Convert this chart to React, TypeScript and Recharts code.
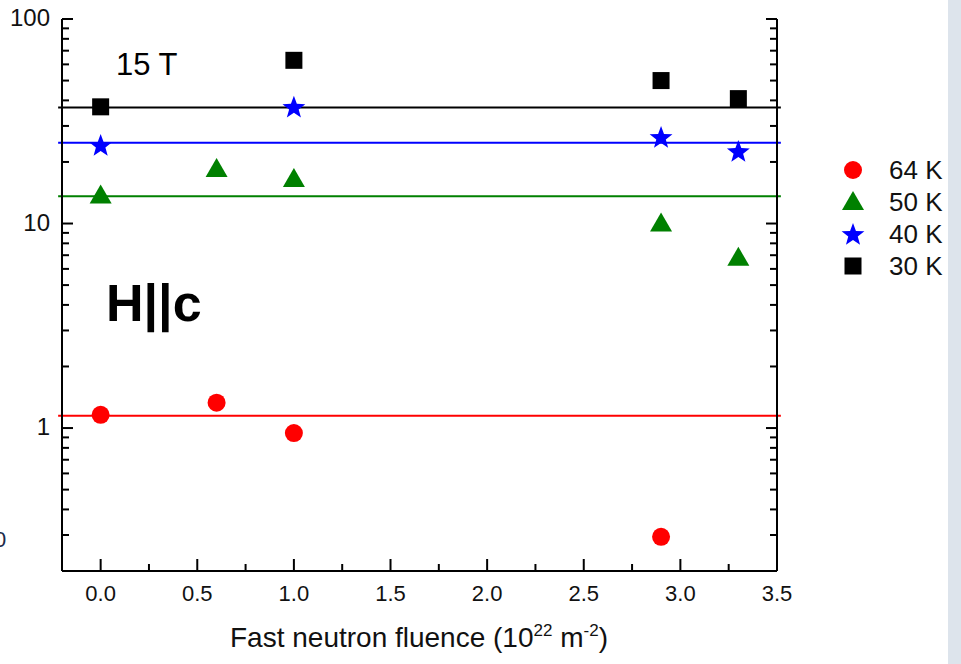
import React from 'react';
import { ScatterChart, Scatter, XAxis, YAxis, ReferenceLine } from 'recharts';

const xTicksMajor = [0, 0.5, 1.0, 1.5, 2.0, 2.5, 3.0, 3.5];
const xTicksMinor = [0.25, 0.75, 1.25, 1.75, 2.25, 2.75, 3.25];
const yTicksMajor = [1, 10, 100];
const yTickLabels: Record<string, string> = { '1': '1', '10': '10', '100': '100' };
const yTicksMinor = [0.2, 0.3, 0.4, 0.5, 0.6, 0.7, 0.8, 0.9, 2, 3, 4, 5, 6, 7, 8, 9, 20, 30, 40, 50, 60, 70, 80, 90];

const data64K = [
  { x: 0.0, y: 1.16 },
  { x: 0.6, y: 1.33 },
  { x: 1.0, y: 0.945 },
  { x: 2.9, y: 0.294 },
];
const data50K = [
  { x: 0.0, y: 13.7 },
  { x: 0.6, y: 18.5 },
  { x: 1.0, y: 16.5 },
  { x: 2.9, y: 10.0 },
  { x: 3.3, y: 6.8 },
];
const data40K = [
  { x: 0.0, y: 24.2 },
  { x: 1.0, y: 37.2 },
  { x: 2.9, y: 26.5 },
  { x: 3.3, y: 22.6 },
];
const data30K = [
  { x: 0.0, y: 37.2 },
  { x: 1.0, y: 62.8 },
  { x: 2.9, y: 50.0 },
  { x: 3.3, y: 40.8 },
];
const avgLines = [
  { name: '64 K', y: 1.15, color: '#ff0000' },
  { name: '50 K', y: 13.6, color: '#008000' },
  { name: '40 K', y: 24.8, color: '#0000ff' },
  { name: '30 K', y: 36.9, color: '#000000' },
];

const FONT = "'Liberation Sans', Arial, sans-serif";

const Circle = (p: any) => <circle cx={p.cx} cy={p.cy} r={9} fill="#ff0000" />;
const Tri = (p: any) => (
  <polygon
    points={`${p.cx},${p.cy - 11} ${p.cx - 11},${p.cy + 8} ${p.cx + 11},${p.cy + 8}`}
    fill="#008000"
  />
);
const starPts = (cx: number, cy: number, R: number, r: number) => {
  const pts: string[] = [];
  for (let i = 0; i < 10; i++) {
    const rad = i % 2 === 0 ? R : r;
    const a = -Math.PI / 2 + (i * Math.PI) / 5;
    pts.push(`${cx + rad * Math.cos(a)},${cy + rad * Math.sin(a)}`);
  }
  return pts.join(' ');
};
const Star = (p: any) => <polygon points={starPts(p.cx, p.cy + 1, 12, 5)} fill="#0000ff" />;
const Square = (p: any) => <rect x={p.cx - 8.5} y={p.cy - 8.5} width={17} height={17} fill="#000" />;

const isMajorX = (v: number) => xTicksMajor.some((t) => Math.abs(t - v) < 1e-9);
const isMajorY = (v: number) => yTicksMajor.some((t) => Math.abs(t - v) < 1e-9);

const BottomTick = (p: any) => {
  const major = isMajorX(p.payload.value);
  const len = major ? 12 : 7;
  return (
    <g>
      <line x1={p.x} x2={p.x} y1={p.y} y2={p.y - len} stroke="#000" strokeWidth={2} />
      {major && (
        <text x={p.x} y={p.y + 30} textAnchor="middle" fontSize={22} fontFamily={FONT} fill="#111">
          {p.payload.value.toFixed(1)}
        </text>
      )}
    </g>
  );
};
const TopTick = (p: any) => {
  const major = isMajorX(p.payload.value);
  const len = major ? 12 : 7;
  return <line x1={p.x} x2={p.x} y1={p.y} y2={p.y + len} stroke="#000" strokeWidth={2} />;
};
const LeftTick = (p: any) => {
  const major = isMajorY(p.payload.value);
  const len = major ? 11 : 7;
  const label = yTickLabels[String(p.payload.value)];
  return (
    <g>
      <line x1={p.x} x2={p.x + len} y1={p.y} y2={p.y} stroke="#000" strokeWidth={2} />
      {major && label && (
        <text x={p.x - 12} y={p.y + 7} textAnchor="end" fontSize={24} fontFamily={FONT} fill="#111">
          {label}
        </text>
      )}
    </g>
  );
};
const RightTick = (p: any) => {
  const major = isMajorY(p.payload.value);
  const len = major ? 11 : 7;
  return <line x1={p.x} x2={p.x - len} y1={p.y} y2={p.y} stroke="#000" strokeWidth={2} />;
};

const legendItems = [
  { name: '64 K', Shape: Circle },
  { name: '50 K', Shape: Tri },
  { name: '40 K', Shape: Star },
  { name: '30 K', Shape: Square },
];

export default function App() {
  const xTicks = [...xTicksMajor, ...xTicksMinor].sort((a, b) => a - b);
  const yTicks = [...yTicksMajor, ...yTicksMinor].sort((a, b) => a - b);
  return (
    <div style={{ position: 'absolute', left: 0, top: 0, width: 961, height: 664, background: '#fff', overflow: 'hidden' }}>
      <ScatterChart width={961} height={664} margin={{ top: 19, right: 174, bottom: 63, left: 0 }}>
        <XAxis
          xAxisId="b"
          type="number"
          dataKey="x"
          domain={[-0.2, 3.5]}
          ticks={xTicks}
          interval={0}
          allowDataOverflow
          height={30}
          tickSize={0}
          tickMargin={0}
          tick={<BottomTick />}
          axisLine={{ stroke: '#000', strokeWidth: 2 }}
          tickLine={false}
        />
        <XAxis
          xAxisId="t"
          orientation="top"
          type="number"
          dataKey="x"
          domain={[-0.2, 3.5]}
          ticks={xTicks}
          interval={0}
          allowDataOverflow
          height={0}
          tickSize={0}
          tickMargin={0}
          tick={<TopTick />}
          axisLine={{ stroke: '#000', strokeWidth: 2 }}
          tickLine={false}
        />
        <YAxis
          yAxisId="l"
          type="number"
          dataKey="y"
          scale="log"
          domain={[0.2, 100]}
          ticks={yTicks}
          interval={0}
          allowDataOverflow
          width={62}
          tickSize={0}
          tickMargin={0}
          tick={<LeftTick />}
          axisLine={{ stroke: '#000', strokeWidth: 2 }}
          tickLine={false}
        />
        <YAxis
          yAxisId="r"
          orientation="right"
          type="number"
          dataKey="y"
          scale="log"
          domain={[0.2, 100]}
          ticks={yTicks}
          interval={0}
          allowDataOverflow
          width={10}
          tickSize={0}
          tickMargin={0}
          tick={<RightTick />}
          axisLine={{ stroke: '#000', strokeWidth: 2 }}
          tickLine={false}
        />
        {avgLines.map((l) => (
          <ReferenceLine
            key={l.name}
            xAxisId="b"
            yAxisId="l"
            ifOverflow="visible"
            segment={[{ x: -0.22, y: l.y }, { x: 3.52, y: l.y }]}
            stroke={l.color}
            strokeWidth={2}
          />
        ))}
        <Scatter name="64 K" data={data64K} xAxisId="b" yAxisId="l" shape={<Circle />} isAnimationActive={false} />
        <Scatter name="50 K" data={data50K} xAxisId="b" yAxisId="l" shape={<Tri />} isAnimationActive={false} />
        <Scatter name="40 K" data={data40K} xAxisId="b" yAxisId="l" shape={<Star />} isAnimationActive={false} />
        <Scatter name="30 K" data={data30K} xAxisId="b" yAxisId="l" shape={<Square />} isAnimationActive={false} />
        <Scatter data={data30K} xAxisId="t" yAxisId="r" shape={() => null} isAnimationActive={false} legendType="none" />
      </ScatterChart>

      <svg style={{ position: 'absolute', left: 0, top: 0 }} width={961} height={664} pointerEvents="none">
        <text x={116} y={75} fontFamily={FONT} fontSize={31} fill="#000">15 T</text>
        <text x={106} y={321} fontFamily={FONT} fontWeight={700} fontSize={52} fill="#000">H||c</text>
        <text x={-6} y={547} fontFamily={FONT} fontSize={22} fill="#1c2a4a">0</text>
        <text x={230} y={647} fontFamily={FONT} fontSize={28} fill="#111">
          Fast neutron fluence (10
          <tspan fontSize={17} dy={-11}>22</tspan>
          <tspan dy={11}> m</tspan>
          <tspan fontSize={17} dy={-11}>-2</tspan>
          <tspan dy={11}>)</tspan>
        </text>
        {legendItems.map((it, i) => {
          const cy = 170 + i * 32;
          const S = it.Shape;
          return (
            <g key={it.name}>
              <S cx={853} cy={cy} />
              <text x={889} y={cy + 9} fontFamily={FONT} fontSize={26} fill="#111">
                {it.name}
              </text>
            </g>
          );
        })}
      </svg>

      <div style={{ position: 'absolute', left: 948, top: 0, width: 13, height: 664, background: '#dde4ec' }} />
    </div>
  );
}
